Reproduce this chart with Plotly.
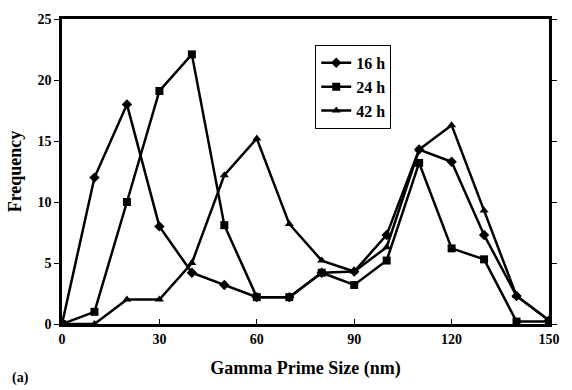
import plotly.graph_objects as go

sizes = [0, 10, 20, 30, 40, 50, 60, 70, 80, 90, 100, 110, 120, 130, 140, 150]
freq_16h = [0, 12, 18, 8, 4.2, 3.2, 2.2, 2.2, 4.2, 4.3, 7.3, 14.3, 13.3, 7.3, 2.3, 0.3]
freq_24h = [0, 1, 10, 19.1, 22.1, 8.1, 2.2, 2.2, 4.2, 3.2, 5.2, 13.2, 6.2, 5.3, 0.2, 0.2]
freq_42h = [0, 0, 2, 2, 5, 12.2, 15.2, 8.2, 5.2, 4.3, 6.3, 14.3, 16.3, 9.3, 2.3, 0.3]

x_ticks = [0, 30, 60, 90, 120, 150]
y_ticks = [0, 5, 10, 15, 20, 25]

font_family = "Liberation Serif"

fig = go.Figure()
series = [
    ("16 h", freq_16h, "diamond", 8),
    ("24 h", freq_24h, "square", 8),
    ("42 h", freq_42h, "triangle-up", 8),
]
for name, vals, sym, sz in series:
    fig.add_trace(go.Scatter(
        x=sizes, y=vals, name=name, mode="lines+markers",
        line=dict(color="black", width=2.5),
        marker=dict(symbol=sym, size=sz, color="black"),
    ))

fig.update_layout(
    width=572, height=390,
    margin=dict(l=62, r=14, t=14, b=66),
    paper_bgcolor="white", plot_bgcolor="white",
    font=dict(family=font_family, color="black", size=13, weight=700),
    showlegend=True,
    legend=dict(
        x=0.52, y=0.915, xanchor="left", yanchor="top",
        bgcolor="white", bordercolor="black", borderwidth=1,
        font=dict(family=font_family, size=16, color="black", weight=700),
        tracegroupgap=0, itemwidth=30,
    ),
    xaxis=dict(
        range=[0, 150], tickvals=x_ticks,
        ticktext=[f"<b>{v}</b>" for v in x_ticks],
        showgrid=False, zeroline=False,
        showline=True, linecolor="black", linewidth=2.5, mirror=True,
        ticks="inside", ticklen=5, tickcolor="black",
        tickfont=dict(family=font_family, size=14, weight=700, color="black"),
        title=dict(text="Gamma Prime Size (nm)",
                   font=dict(family=font_family, size=18, weight=700), standoff=16),
    ),
    yaxis=dict(
        range=[0, 25], tickvals=y_ticks,
        ticktext=[f"<b>{v}</b>" for v in y_ticks],
        showgrid=False, zeroline=False,
        showline=True, linecolor="black", linewidth=2.5, mirror="ticks",
        ticks="outside", ticklen=5, tickcolor="black",
        tickfont=dict(family=font_family, size=14, weight=700, color="black"),
        title=dict(text="Frequency",
                   font=dict(family=font_family, size=18, weight=700, color="black"), standoff=12),
    ),
    annotations=[dict(
        text="(a)", x=0.0, y=0.0, xref="paper", yref="paper",
        xshift=-52, yshift=-54, showarrow=False, xanchor="left", yanchor="middle",
        font=dict(family=font_family, size=14, color="black", weight=700),
    )],
)

fig.write_html("out.html")
